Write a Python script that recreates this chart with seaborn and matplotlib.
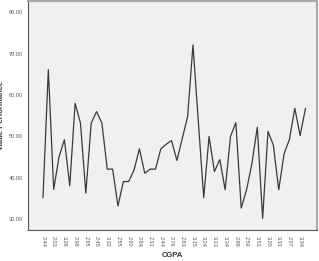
import matplotlib
matplotlib.use("Agg")
import matplotlib.pyplot as plt
import seaborn as sns
import numpy as np
import pandas as pd

values = [35.2, 66.1, 37.2, 45.1, 49.2, 38.1, 58.0, 53.2, 36.3, 53.2,
          56.0, 53.2, 42.1, 42.1, 33.2, 39.1, 39.1, 41.9, 47.0, 41.1,
          42.1, 42.1, 47.0, 48.1, 49.0, 44.2, 49.5, 54.8, 72.1, 53.5,
          35.2, 50.0, 41.5, 44.4, 37.1, 50.0, 53.3, 32.7, 37.1, 43.5,
          52.2, 30.2, 51.2, 47.9, 37.1, 45.8, 49.3, 56.8, 50.2, 56.8]
tick_labels = ["2.44", "2.03", "3.26", "2.98", "2.65", "2.45", "3.32", "2.55",
               "2.90", "2.84", "2.31", "2.44", "2.76", "2.83", "3.15", "3.24",
               "3.13", "3.34", "2.89", "2.59", "3.53", "3.20", "3.31", "2.97", "3.34"]
y_ticks = [30, 40, 50, 60, 70, 80]

df = pd.DataFrame({"case": np.arange(len(values)), "value": values})

sns.set_style("white")
plt.rcParams["font.family"] = ["Liberation Sans", "DejaVu Sans"]

fig = plt.figure(figsize=(3.19, 2.61), dpi=100)
ax = fig.add_axes([28.5/319, 31/261, 288/319, 229/261])
ax.set_facecolor("#f0f0f0")

sns.lineplot(data=df, x="case", y="value", ax=ax, color="#3a3a3a", linewidth=0.9)

ax.set_xlim(-2.7, 51.05)
ax.set_ylim(27.4, 82.7)
ax.set_yticks(y_ticks)
ax.set_yticklabels([f"{v:.2f}" for v in y_ticks], fontsize=4, color="#555555")
ax.set_xticks(np.arange(0, len(values), 2))
ax.set_xticklabels(tick_labels, rotation=-90, fontsize=4, color="#555555")
ax.tick_params(axis="both", direction="out", length=2.5, width=0.6,
               color="#444444", pad=1.5)

for side in ["left", "bottom"]:
    ax.spines[side].set_color("#555555")
    ax.spines[side].set_linewidth(0.8)
for side in ["top", "right"]:
    ax.spines[side].set_visible(True)
    ax.spines[side].set_color("#a8a8a8")
    ax.spines[side].set_linewidth(1.5)

ax.set_xlabel("CGPA", fontsize=5.5, fontweight="bold", color="#333333")
ax.xaxis.set_label_coords(0.5, -22/229)
ax.set_ylabel("Value Performance", fontsize=5.5, fontweight="bold", color="#333333")
ax.yaxis.set_label_coords(-23/288, 0.5)

fig.savefig("out.png", dpi=100)
